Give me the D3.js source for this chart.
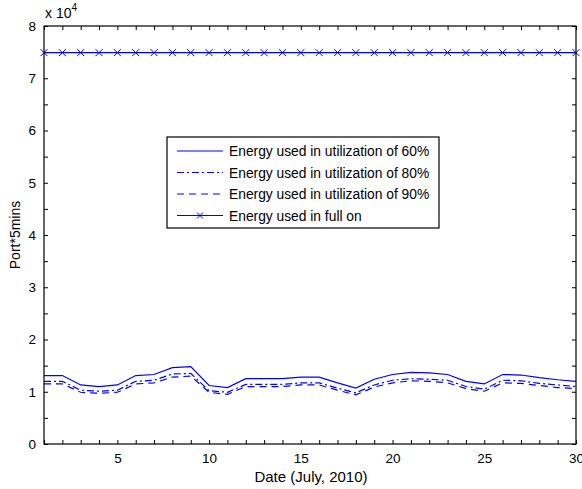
<!DOCTYPE html>
<html>
<head>
<meta charset="utf-8">
<script src="https://cdn.jsdelivr.net/npm/d3@7"></script>
<style>
  body { margin: 0; background: #fff; }
  svg text { font-family: "Liberation Sans", Arial, Helvetica, sans-serif; fill: #000; }
</style>
</head>
<body>
<svg id="chart" width="582" height="489"></svg>
<script>
// data (values in units of 10^4 Port*5mins)
const days = d3.range(1, 31);
const util60 = [1.31, 1.31, 1.13, 1.10, 1.13, 1.31, 1.33, 1.46, 1.48, 1.12,
                1.08, 1.25, 1.25, 1.25, 1.28, 1.28, 1.17, 1.07, 1.24, 1.33,
                1.37, 1.36, 1.33, 1.20, 1.15, 1.33, 1.32, 1.27, 1.23, 1.20];
const util80 = [1.20, 1.20, 1.03, 1.01, 1.03, 1.20, 1.22, 1.34, 1.35, 1.02,
                0.99, 1.14, 1.14, 1.14, 1.17, 1.17, 1.07, 0.98, 1.13, 1.22,
                1.25, 1.24, 1.22, 1.10, 1.05, 1.22, 1.21, 1.16, 1.13, 1.10];
const util90 = [1.15, 1.15, 0.99, 0.97, 0.99, 1.15, 1.17, 1.28, 1.30, 0.99,
                0.95, 1.10, 1.10, 1.10, 1.13, 1.13, 1.03, 0.94, 1.09, 1.17,
                1.21, 1.20, 1.17, 1.06, 1.01, 1.17, 1.16, 1.12, 1.08, 1.06];
const fullOn = days.map(() => 7.49);
const xTickLabels = [5, 10, 15, 20, 25, 30];
const yTickLabels = [0, 1, 2, 3, 4, 5, 6, 7, 8];
const legendLabels = [
    "Energy used in utilization of 60%",
    "Energy used in utilization of 80%",
    "Energy used in utilization of 90%",
    "Energy used in full on"
];

const blue = "#0000ff";
const series = [
    { values: util60, dash: null },
    { values: util80, dash: "7,3,2,3" },
    { values: util90, dash: "7,5" },
    { values: fullOn, dash: null, marker: true }
];

const svg = d3.select("#chart");
const plot = { left: 44, right: 576, top: 26, bottom: 444 };

const x = d3.scaleLinear().domain([1, 30]).range([plot.left, plot.right]);
const y = d3.scaleLinear().domain([0, 8]).range([plot.bottom, plot.top]);

// tick marks (inward, all four sides)
const tickLen = 4;
const xAxisBottom = d3.axisBottom(x).tickValues(days).tickSize(-tickLen)
    .tickFormat(d => xTickLabels.includes(d) ? d : "").tickPadding(9);
const xAxisTop = d3.axisTop(x).tickValues(days).tickSize(-tickLen).tickFormat("");
const yTicks = d3.range(0, 8.01, 0.5);
const yAxisLeft = d3.axisLeft(y).tickValues(yTicks).tickSize(-tickLen)
    .tickFormat(d => yTickLabels.includes(d) ? d : "").tickPadding(8);
const yAxisRight = d3.axisRight(y).tickValues(yTicks).tickSize(-tickLen).tickFormat("");

function styleAxis(g) {
    g.select(".domain").remove();
    g.selectAll(".tick line").attr("stroke", "#000").attr("stroke-width", 1);
    g.selectAll("text").style("font-size", "13.5px").attr("fill", "#000");
}

svg.append("g").attr("transform", `translate(0,${plot.bottom})`).call(xAxisBottom).call(styleAxis);
svg.append("g").attr("transform", `translate(0,${plot.top})`).call(xAxisTop).call(styleAxis);
svg.append("g").attr("transform", `translate(${plot.left},0)`).call(yAxisLeft).call(styleAxis);
svg.append("g").attr("transform", `translate(${plot.right},0)`).call(yAxisRight).call(styleAxis);

// lines
const line = d3.line().x((d, i) => x(days[i])).y(d => y(d));

series.forEach(s => {
    svg.append("path")
        .datum(s.values)
        .attr("fill", "none")
        .attr("stroke", blue)
        .attr("stroke-width", 1.2)
        .attr("stroke-dasharray", s.dash)
        .attr("d", line);
    if (s.marker) {
        svg.append("g").selectAll("path")
            .data(s.values)
            .join("path")
            .attr("transform", (d, i) => `translate(${x(days[i])},${y(d)})`)
            .attr("d", "M-3.5,-3.5L3.5,3.5M-3.5,3.5L3.5,-3.5")
            .attr("stroke", blue)
            .attr("stroke-width", 1);
    }
});

// frame
svg.append("rect")
    .attr("x", plot.left).attr("y", plot.top)
    .attr("width", plot.right - plot.left).attr("height", plot.bottom - plot.top)
    .attr("fill", "none").attr("stroke", "#000").attr("stroke-width", 1.2);

// exponent label
const expo = svg.append("text").attr("x", plot.left + 1).attr("y", 18).style("font-size", "14px");
expo.append("tspan").text("x 10");
expo.append("tspan").attr("dy", -7).style("font-size", "10px").text("4");

// axis labels
svg.append("text")
    .attr("x", 311).attr("y", 482)
    .attr("text-anchor", "middle").style("font-size", "15px")
    .text("Date (July, 2010)");
svg.append("text")
    .attr("transform", `translate(20,${(plot.top + plot.bottom) / 2}) rotate(-90)`)
    .attr("text-anchor", "middle").style("font-size", "14px")
    .text("Port*5mins");

// legend
const lg = svg.append("g").attr("transform", "translate(167,137)");
lg.append("rect")
    .attr("width", 272).attr("height", 91)
    .attr("fill", "#fff").attr("stroke", "#000").attr("stroke-width", 1.2);
legendLabels.forEach((label, i) => {
    const yy = 14 + i * 21.5;
    lg.append("line")
        .attr("x1", 10).attr("x2", 56).attr("y1", yy).attr("y2", yy)
        .attr("stroke", blue).attr("stroke-width", 1.2)
        .attr("stroke-dasharray", series[i].dash);
    if (series[i].marker) {
        lg.append("path")
            .attr("transform", `translate(33,${yy})`)
            .attr("d", "M-3,-3L3,3M-3,3L3,-3")
            .attr("stroke", blue).attr("stroke-width", 1);
    }
    lg.append("text")
        .attr("x", 62).attr("y", yy + 5)
        .style("font-size", "13.8px")
        .text(label);
});
</script>
</body>
</html>
